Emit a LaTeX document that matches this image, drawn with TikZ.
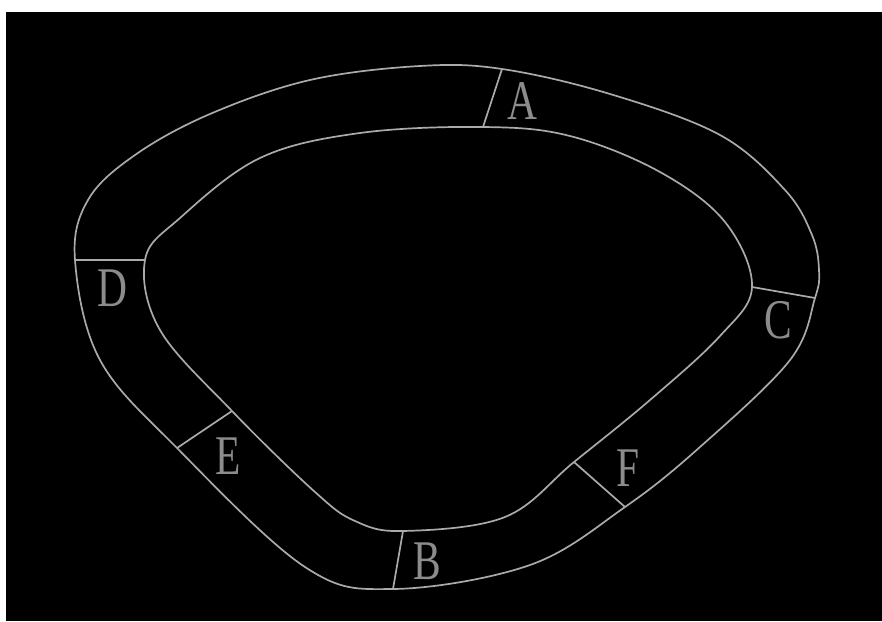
\documentclass[tikz,border=0pt]{standalone}
\usepackage{fontspec}
\setmainfont{Liberation Serif}
\begin{document}
\begin{tikzpicture}[x=1pt,y=-1pt,
  ring/.style={draw=ringgray,line width=1.7pt,line join=round},
  cut/.style={draw=ringgray,line width=1.7pt},
  lbl/.style={text=lblgray,font=\fontsize{56}{58}\selectfont,xscale=0.74,inner sep=0pt}]
\definecolor{ringgray}{RGB}{170,170,170}
\definecolor{lblgray}{RGB}{140,140,140}
\useasboundingbox (0,0) rectangle (882,621);
\fill[white] (0,0) rectangle (882,621);
\fill[black] (6,12) rectangle (882,621);
% cut endpoints
\coordinate (Ao) at (502,69);  \coordinate (Ai) at (483,127);
\coordinate (Co) at (815,298); \coordinate (Ci) at (752,287);
\coordinate (Fo) at (625,507); \coordinate (Fi) at (574,462);
\coordinate (Bo) at (393,589); \coordinate (Bi) at (403,531);
\coordinate (Eo) at (177,448); \coordinate (Ei) at (232,411);
\coordinate (Do) at (75,260);  \coordinate (Di) at (145,260);
% outer ring
\draw[ring] plot[smooth cycle,tension=0.6] coordinates {
  (Do) (88,200) (135,155) (210,114) (310,80) (420,66) (Ao)
  (610,94) (720,135) (785,190) (812,235) (819,270) (Co) (790,360)
  (700,447) (Fo) (530,565) (Bo) (305,567)
  (Eo) (100,360)};
% inner ring
\draw[ring] plot[smooth cycle,tension=0.6] coordinates {
  (Di) (180,218) (260,158) (360,133) (Ai) (570,136)
  (660,172) (725,222) (Ci) (720,336) (650,400) (Fi)
  (505,517) (Bi) (355,521) (315,492) (Ei) (160,330)};
% cuts
\draw[cut] (Ao) -- (Ai);
\draw[cut] (Co) -- (Ci);
\draw[cut] (Fo) -- (Fi);
\draw[cut] (Bo) -- (Bi);
\draw[cut] (Eo) -- (Ei);
\draw[cut] (Do) -- (Di);
% labels
\node[lbl] (A) at (522,101) {A};
\node[lbl] (D) at (112,288) {D};
\node[lbl] (C) at (778,320) {C};
\node[lbl] (E) at (228,456) {E};
\node[lbl] (B) at (427,561) {B};
\node[lbl] (F) at (628,468) {F};
\end{tikzpicture}
\end{document}
